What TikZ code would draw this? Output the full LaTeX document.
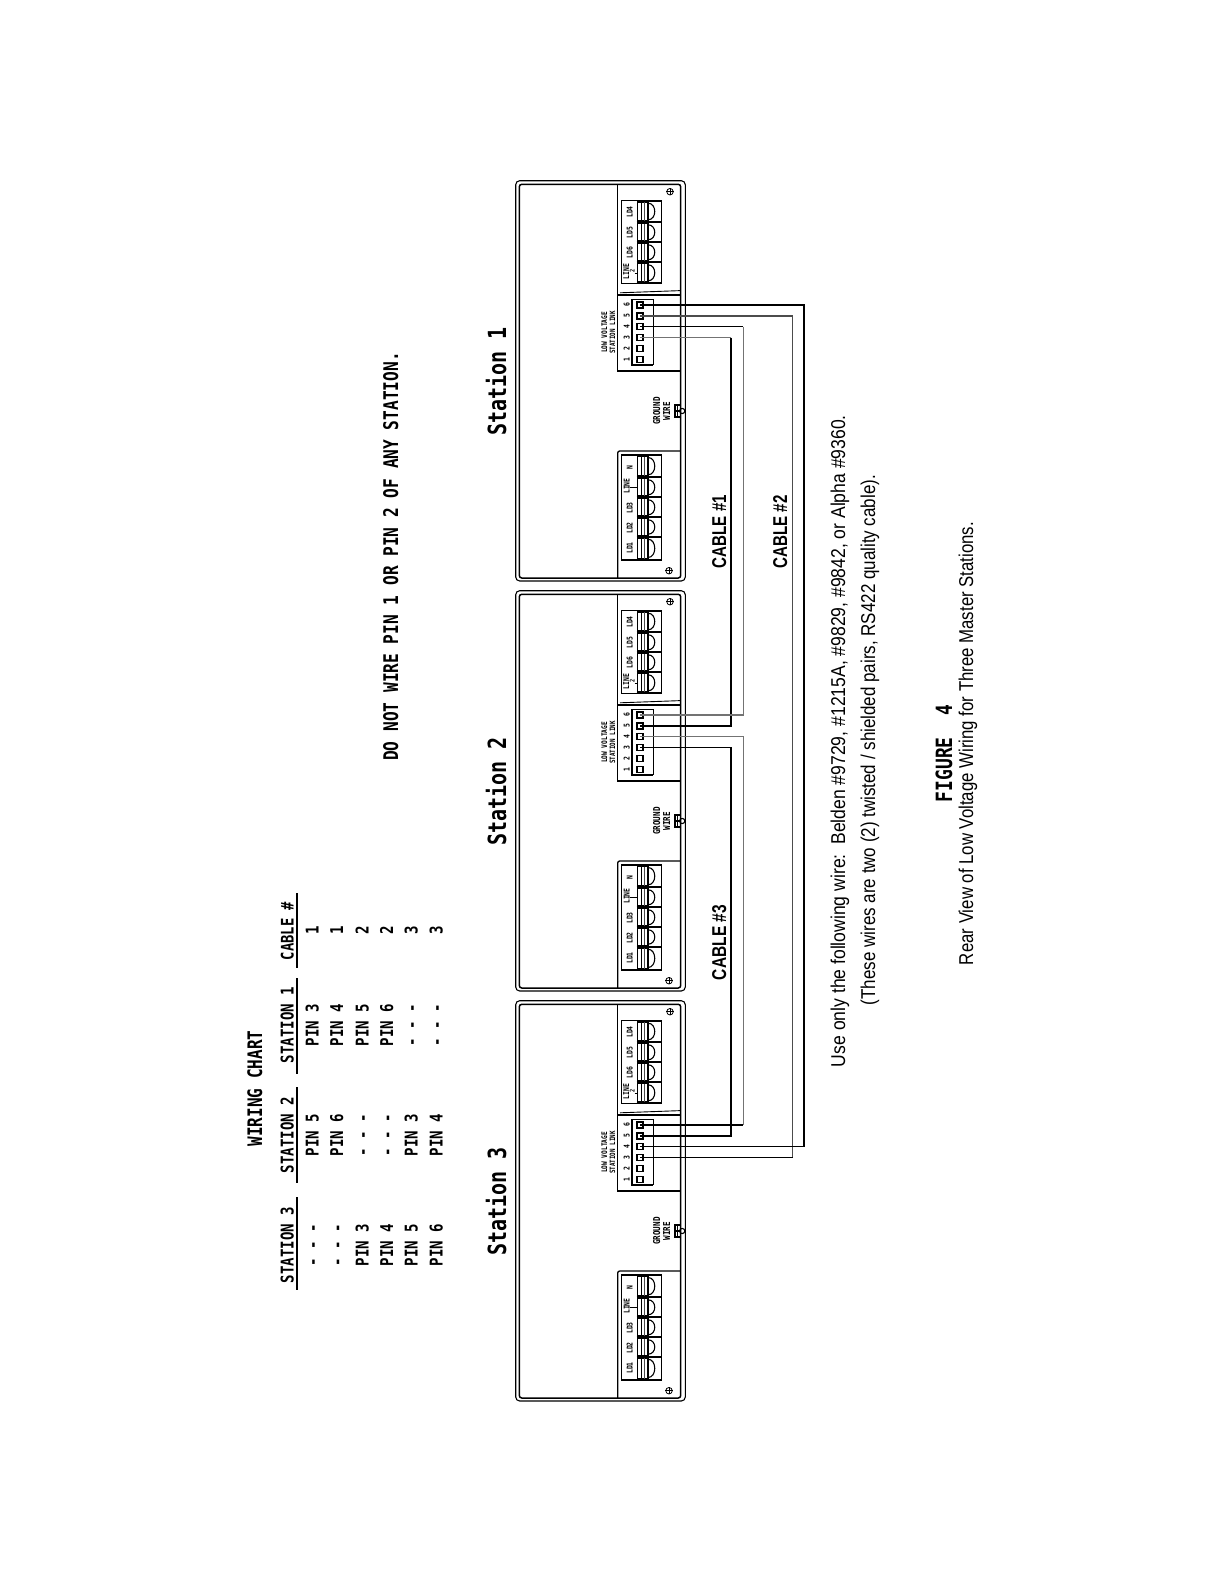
\documentclass[tikz,border=0pt]{standalone}
\usepackage{fontspec}
\usepackage{graphicx}
\newfontfamily\cadf{DejaVu Sans Mono}[FakeStretch=0.8,UprightFont=*,BoldFont=* Bold]
\newfontfamily\capf{Liberation Sans}
\newcommand\cadsize[1]{\cadf\bfseries\fontsize{#1}{#1}\selectfont}
\tikzset{
  cad/.style={rotate=90,anchor=base,inner sep=0pt,font=\cadsize{#1}},
  capt/.style={rotate=90,anchor=base,inner sep=0pt,font=\capf\fontsize{20}{20}\selectfont},
  cablelab/.style={rotate=90,anchor=base,inner sep=0pt,font=\capf\bfseries\fontsize{20}{20}\selectfont},
  boxline/.style={line width=1.3pt,black},
  thinline/.style={line width=0.9pt,black},
  sepline/.style={line width=1.8pt,black},
  pinbox/.style={draw=black,line width=1.2pt,minimum size=6pt,inner sep=0pt,fill=white},
  wireK/.style={line width=1.5pt,black},
  wireG/.style={line width=1.2pt,black!55},
  wireD/.style={line width=1.2pt,black!70},
  rulebar/.style={line width=1.6pt,black}
}
% one terminal: #1 top y, #2 bottom y
\newcommand\oneterm[2]{%
  \draw[thinline] (661,#1) -- (661,#2);
  \draw[boxline,fill=white] (637.5,#1+1.5) rectangle (648,#2-1.5);
  \draw[line width=1.6pt] (641.5,#1+1.5) -- (641.5,#2-1.5);
  \draw[line width=1.1pt,black!70] (644.7,#1+1.5) -- (644.7,#2-1.5);
  \draw[line width=1.1pt] (648,#1+2.5) .. controls (657,#1+2.5) and (657,#2-2.5) .. (648,#2-2.5);
}
\newcommand\screw[3]{%
  \node[circle,draw=black,line width=0.8pt,minimum size=6.5pt,inner sep=0pt] (#1) at (#2,#3) {};
  \draw[line width=0.6pt] (#1.west) -- (#1.east) (#1.north) -- (#1.south);
}
\newcommand\stationbody[2]{%
\begin{scope}[shift={(0,#2)}]
  \draw[line width=1.1pt,rounded corners=4pt] (515.7,180.7) rectangle (685.3,581);
  \draw[line width=1.5pt,rounded corners=2.5pt] (519.3,184.3) rectangle (680.7,578);
  \draw[boxline] (617.7,184.3) -- (617.7,371) -- (680.7,371);
  \draw[boxline] (617.7,295) -- (680.7,295);
  \draw[thinline] (620,292.8) -- (680.7,290.6);
  \draw[boxline,rounded corners=2pt] (617.7,578) -- (617.7,451) -- (680.7,451);
  % upper terminal strip
  \draw[boxline] (662,200.7) -- (621.5,200.7) -- (621.5,283.3) -- (662,283.3);
  \foreach \t/\b in {200.7/222.3,222.3/242.3,242.3/262.3,262.3/283.3}{\oneterm{\t}{\b}}
  \foreach \s in {200.7,222.3,242.3,262.3,283.3}{\draw[sepline] (636.5,\s) -- (662,\s);}
  \node[cad=8] (S#1ldd) at (632.5,212) {LD4};
  \node[cad=8] (S#1lde) at (632.5,232.5) {LD5};
  \node[cad=8] (S#1ldf) at (632.5,252.5) {LD6};
  \node[cad=8] (S#1lnb) at (629,271.5) {LINE};
  \node[cad=6.5] (S#1two) at (634.5,271) {2};
  \draw[thinline] (634.5,273) -- (637.5,273);
  % lower terminal strip
  \draw[boxline] (662,455) -- (621.5,455) -- (621.5,560) -- (662,560);
  \foreach \t/\b in {455/477.3,477.3/497.3,497.3/517.3,517.3/536.7,536.7/560}{\oneterm{\t}{\b}}
  \foreach \s in {455,477.3,497.3,517.3,536.7,560}{\draw[sepline] (636.5,\s) -- (662,\s);}
  \node[cad=8] (S#1n) at (632.5,468) {N};
  \node[cad=8] (S#1lna) at (629.5,486) {LINE};
  \draw[thinline] (629.5,487.7) -- (637.5,487.7);
  \node[cad=8] (S#1ldc) at (632.5,508) {LD3};
  \node[cad=8] (S#1ldb) at (632.5,528) {LD2};
  \node[cad=8] (S#1lda) at (632.5,548) {LD1};
  % screws
  \screw{S#1sc}{670}{191.7}
  \screw{S#1sd}{669}{570.7}
  % pin block
  \draw[line width=1.4pt] (653.3,299.3) -- (632,299.3) -- (632,365) -- (653.3,365);
  \draw[thinline] (653.3,299.3) -- (653.3,365);
  \foreach \p/\y in {1/359.3,2/348.4,3/337.6,4/326.7,5/315.9,6/305}{%
    \node[pinbox] (S#1p\p) at (640,\y) {};
    \node[cad=8] (S#1d\p) at (629.5,\y) {\p};
  }
  \node[cad=7.7] (S#1lv) at (607,332.5) {LOW VOLTAGE};
  \node[cad=7.3] (S#1sl) at (615,332.5) {STATION LINK};
  % ground
  \node[cad=9.5] (S#1gr) at (660,411) {GROUND};
  \node[cad=9.5] (S#1wi) at (670,411) {WIRE};
  \draw[line width=1.3pt] (675,405) rectangle (680.7,417);
  \draw[line width=1.1pt] (682.2,411) circle (2.6pt);
  \draw[line width=1.1pt] (675,411) -- (680.7,411);
  \draw[line width=1pt] (677.8,405) -- (677.8,417);
\end{scope}}
\begin{document}
\begin{tikzpicture}[x=1pt,y=-1pt]
\useasboundingbox[fill=white] (0,0) rectangle (1224,1584);
% wiring chart
\node[cad=20] (chart) at (262,1088.5) {WIRING CHART};
\node[cad=17.6] (hS3) at (293.5,1245) {STATION 3};
\node[cad=17.6] (hS2) at (293.5,1135) {STATION 2};
\node[cad=17.6] (hS1) at (293.5,1025) {STATION 1};
\node[cad=17.3] (hC) at (293.5,931) {CABLE \#};
\draw[rulebar] (296.7,1197) -- (296.7,1290);
\draw[rulebar] (296.7,1087) -- (296.7,1183);
\draw[rulebar] (296.7,978) -- (296.7,1074);
\draw[rulebar] (296.7,893) -- (296.7,968);
\foreach \n/\x/\a/\b/\c/\d in {
  1/318.5/- - -/PIN 5/PIN 3/1,
  2/343/- - -/PIN 6/PIN 4/1,
  3/368.5/PIN 3/- - -/PIN 5/2,
  4/393/PIN 4/- - -/PIN 6/2,
  5/417.5/PIN 5/PIN 3/- - -/3,
  6/442.5/PIN 6/PIN 4/- - -/3}{
  \node[cad=17.6] (r\n a) at (\x,1245) {\a};
  \node[cad=17.6] (r\n b) at (\x,1135) {\b};
  \node[cad=17.6] (r\n c) at (\x,1025) {\c};
  \node[cad=17.6] (r\n d) at (\x,930) {\d};
}
\node[cad=20.2] (warn) at (398,556.5) {DO NOT WIRE PIN 1 OR PIN 2 OF ANY STATION.};
% station titles
\node[cad=25] (t1) at (506,381.5) {Station 1};
\node[cad=25] (t2) at (506,791.5) {Station 2};
\node[cad=25] (t3) at (506,1201.5) {Station 3};
% stations
\stationbody{1}{0}
\stationbody{2}{410}
\stationbody{3}{820}
% cable buses
\coordinate (busA) at (731,0);
\coordinate (busB) at (743.3,0);
\coordinate (busC) at (792.7,0);
\coordinate (busD) at (804,0);
% cable 1
\draw[wireG] (S1p3.center) -- (S1p3 -| busA);
\draw[wireK] (S1p3 -| busA) -- (S2p5 -| busA) -- (S2p5.center);
\draw[wireK] (S1p4.center) -- (S1p4 -| busB);
\draw[wireG] (S1p4 -| busB) -- (S2p6 -| busB) -- (S2p6.center);
% cable 2
\draw[wireD] (S1p5.center) -- (S1p5 -| busC) -- (S3p3 -| busC);
\draw[wireK] (S3p3.center) -- (S3p3 -| busC);
\draw[wireK] (S1p6.center) -- (S1p6 -| busD) -- (S3p4 -| busD) -- (S3p4.center);
% cable 3
\draw[wireK] (S2p3.center) -- (S2p3 -| busA) -- (S3p5 -| busA) -- (S3p5.center);
\draw[wireG] (S2p4.center) -- (S2p4 -| busB) -- (S3p6 -| busB);
\draw[wireK] (S3p6.center) -- (S3p6 -| busB);
% cable labels
\node[cablelab] (c1) at (726,531.5) {\resizebox{73pt}{\height}{CABLE \#1}};
\node[cablelab] (c2) at (787,532) {\resizebox{73pt}{\height}{CABLE \#2}};
\node[cablelab] (c3) at (726,942.5) {\resizebox{75pt}{\height}{CABLE \#3}};
% captions
\node[capt] (l1) at (845,741) {\resizebox{652pt}{\height}{Use only the following wire:\ \ Belden \#9729, \#1215A, \#9829, \#9842, or Alpha \#9360.}};
\node[capt] (l2) at (875,740) {\resizebox{530pt}{\height}{(These wires are two (2) twisted / shielded pairs, RS422 quality cable).}};
\node[cad=22.4] (fig) at (952,753.5) {FIGURE\ \ 4};
\node[capt] (l3) at (973,743.5) {\resizebox{443pt}{\height}{Rear View of Low Voltage Wiring for Three Master Stations.}};
\end{tikzpicture}
\end{document}
